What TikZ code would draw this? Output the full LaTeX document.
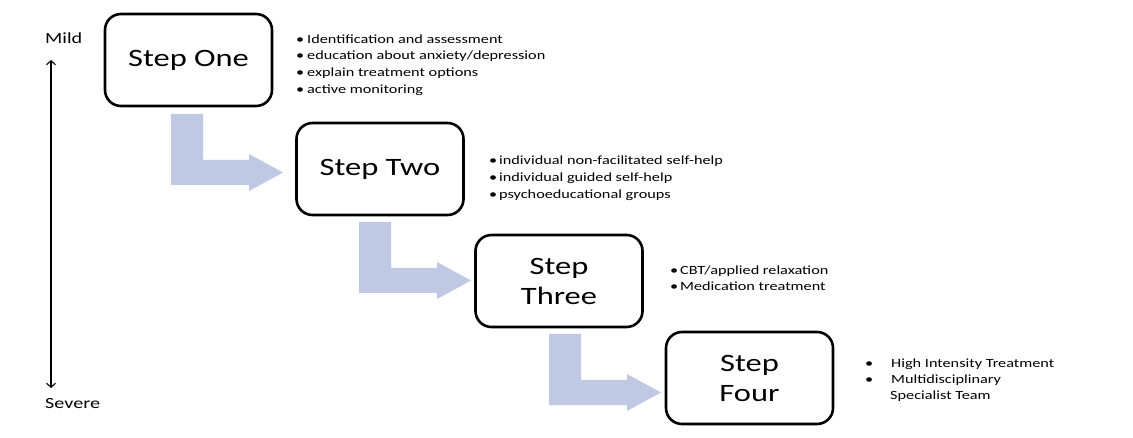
\documentclass[tikz,border=0pt]{standalone}
\usepackage{fontspec}
\setmainfont{Carlito}[FakeStretch=1.3]
\usetikzlibrary{arrows.meta}
\definecolor{stepblue}{RGB}{191,201,227}
\newcommand\bulletgap[1]{\makebox[#1][l]{\hspace{-2pt}•}}
\tikzset{
  stepbox/.style={draw=black, line width=2.6pt, rounded corners=16pt,
    minimum width=167pt, minimum height=92pt, inner sep=0pt, align=center,
    font=\fontsize{25}{30}\selectfont},
  bulletline/.style={anchor=base west, inner sep=0pt,
    font=\fontsize{12.5}{15}\selectfont},
  scalelabel/.style={anchor=base west, inner sep=0pt,
    font=\fontsize{15.5}{18}\selectfont},
  pics/steparrow/.style={code={
    \fill[stepblue] (0,0) -- (32,0) -- (32,46) -- (78,46) -- (78,40)
      -- (112,58.5) -- (78,77) -- (78,71) -- (0,71) -- cycle;}}
}
\begin{document}
\begin{tikzpicture}[x=1pt,y=-1pt]
\useasboundingbox (0,0) rectangle (1133,438);

% severity scale
\node[scalelabel] (mild) at (45,44) {Mild};
\node[scalelabel] (severe) at (45,409) {Severe};
\coordinate (axtop) at (51,60);
\coordinate (axbot) at (51,388);
\draw[line width=1.1pt, {Straight Barb[length=4pt,width=9pt]}-{Straight Barb[length=4pt,width=9pt]}] (axbot) -- (axtop);

% block arrows between the steps
\pic (arrA) at (171,114) {steparrow};
\pic (arrB) at (359,222) {steparrow};
\pic (arrC) at (549,334) {steparrow};

% the four steps
\node[stepbox] (one) at (188.5,60) {Step One};
\node[stepbox] (two) at (380,169) {Step Two};
\node[stepbox] (three) at (559,281) {Step\\Three};
\node[stepbox] (four) at (749.5,378) {Step\\Four};

% step one actions
\node[bulletline] (oneA) at (298,43.3) {\bulletgap{9pt}Identification and assessment};
\node[bulletline] (oneB) at (298,60) {\bulletgap{9pt}education about anxiety/depression};
\node[bulletline] (oneC) at (298,76.7) {\bulletgap{9pt}explain treatment options};
\node[bulletline] (oneD) at (298,93.3) {\bulletgap{9pt}active monitoring};

% step two actions
\node[bulletline] (twoA) at (491,165) {\bulletgap{8pt}individual non-facilitated self-help};
\node[bulletline] (twoB) at (491,182) {\bulletgap{8pt}individual guided self-help};
\node[bulletline] (twoC) at (491,199) {\bulletgap{8pt}psychoeducational groups};

% step three actions
\node[bulletline] (threeA) at (672,274.5) {\bulletgap{8pt}CBT/applied relaxation};
\node[bulletline] (threeB) at (672,291) {\bulletgap{8pt}Medication treatment};

% step four actions
\node[bulletline] (fourA) at (867,368) {\bulletgap{24pt}High Intensity Treatment};
\node[bulletline] (fourB) at (867,384) {\bulletgap{24pt}Multidisciplinary};
\node[bulletline] (fourC) at (890,399.5) {Specialist Team};
\end{tikzpicture}
\end{document}
